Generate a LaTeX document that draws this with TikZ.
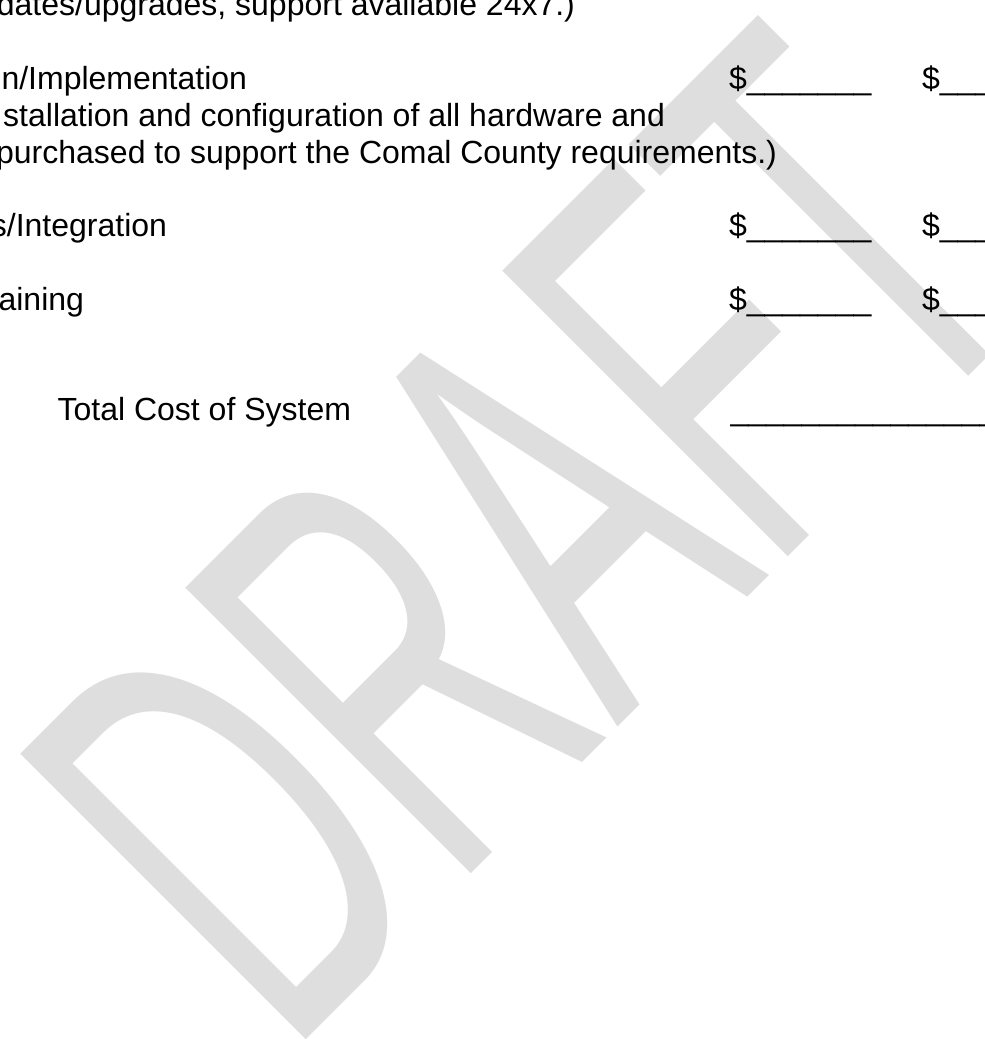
\documentclass[tikz,border=0pt]{standalone}
\usepackage{fontspec}
\setmainfont{Liberation Sans}
\definecolor{wmgray}{RGB}{222,222,222}
\begin{document}
\begin{tikzpicture}[x=1pt,y=1pt,
  txt/.style={inner sep=0pt, outer sep=0pt, text=black, font=\fontsize{32}{38}\selectfont},
  txtR/.style={txt, anchor=base east},
  txtL/.style={txt, anchor=base west},
  watermark/.style={anchor=base west, inner sep=0pt, outer sep=0pt, rotate=45, text=wmgray}]
\useasboundingbox (0,0) rectangle (985,-1039);
\clip (0,0) rectangle (985,-1039);
\fill[white] (0,0) rectangle (985,-1039);
% watermark
\node[watermark] (wm) at (287,-1058) {\scalebox{0.551}[1]{\fontsize{587}{587}\selectfont DRAFT}};
% text lines
\node[txtR] (l1) at (575,-15) {dates/upgrades, support available 24x7.)};
\node[txtR] (l2) at (247,-89) {n/Implementation};
\node[txtR] (l3) at (665,-126) {stallation and configuration of all hardware and};
\node[txtR] (l4) at (777,-163) {purchased to support the Comal County requirements.)};
\node[txtR] (l5) at (167,-236) {s/Integration};
\node[txtR] (l6) at (84,-310) {aining};
\node[txtL] (l7) at (57.6,-420) {Total Cost of System};
% cost blanks
\node[txtL] (a1) at (729,-89) {\$\_\_\_\_\_\_\_};
\node[txtL] (b1) at (922,-89) {\$\_\_\_\_\_\_\_};
\node[txtL] (a2) at (729,-236) {\$\_\_\_\_\_\_\_};
\node[txtL] (b2) at (922,-236) {\$\_\_\_\_\_\_\_};
\node[txtL] (a3) at (729,-310) {\$\_\_\_\_\_\_\_};
\node[txtL] (b3) at (922,-310) {\$\_\_\_\_\_\_\_};
\node[txtL] (tot) at (730.5,-420) {\_\_\_\_\_\_\_\_\_\_\_\_\_\_\_\_};
\end{tikzpicture}
\end{document}
